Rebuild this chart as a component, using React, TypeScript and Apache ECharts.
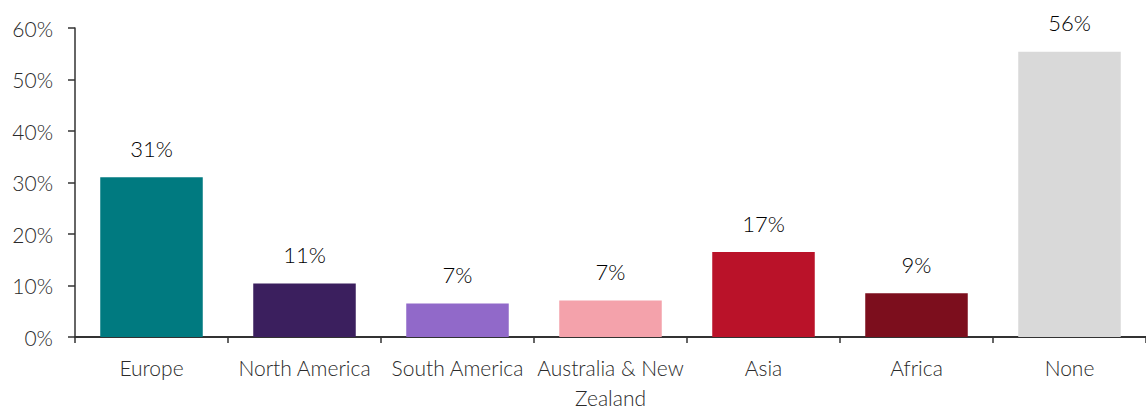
import React, { useEffect, useRef } from "react";
import * as echarts from "echarts";

const categories = ["Europe", "North America", "South America", "Australia & New Zealand", "Asia", "Africa", "None"];
const values = [31.0, 10.4, 6.5, 7.1, 16.5, 8.5, 55.4];
const valueLabels = ["31%", "11%", "7%", "7%", "17%", "9%", "56%"];
const colors = ["#007A80", "#3B1F5E", "#9169C9", "#F4A2AB", "#BA1229", "#7C0E1D", "#D9D9D9"];
const yTicks = [0, 10, 20, 30, 40, 50, 60];

const FONT = "Lato, 'Noto Sans', sans-serif";

export default function App() {
  const ref = useRef<HTMLDivElement>(null);
  useEffect(() => {
    if (!ref.current) return;
    const chart = echarts.init(ref.current, null, { renderer: "svg" });
    chart.setOption({
      animation: false,
      backgroundColor: "#ffffff",
      grid: { left: 75, right: -3, top: 28, bottom: 70, containLabel: false },
      xAxis: {
        type: "category",
        data: categories,
        axisLine: { show: true, lineStyle: { color: "#333333", width: 2 } },
        axisTick: { show: true, length: 6, alignWithLabel: false, lineStyle: { color: "#333333", width: 1.5 } },
        axisLabel: {
          color: "#2a2a2a",
          fontFamily: FONT,
          fontSize: 21,
          fontWeight: 300,
          margin: 15,
          lineHeight: 30,
          interval: 0,
          formatter: (v: string) => (v === "Australia & New Zealand" ? "Australia & New\nZealand" : v),
        },
      },
      yAxis: {
        type: "value",
        min: yTicks[0],
        max: yTicks[yTicks.length - 1],
        interval: 10,
        splitLine: { show: false },
        axisLine: { show: true, lineStyle: { color: "#333333", width: 1.5 } },
        axisTick: { show: true, length: 7, lineStyle: { color: "#333333", width: 1.5 } },
        axisLabel: {
          color: "#2a2a2a",
          fontFamily: FONT,
          fontSize: 21,
          fontWeight: 300,
          margin: 22,
          formatter: "{value}%",
        },
      },
      series: [
        {
          type: "bar",
          barWidth: "67%",
          data: values.map((v, i) => ({ value: v, itemStyle: { color: colors[i] } })),
          label: {
            show: true,
            position: "top",
            distance: 18,
            color: "#000000",
            fontFamily: FONT,
            fontSize: 22,
            fontWeight: 300,
            formatter: (p: any) => valueLabels[p.dataIndex],
          },
        },
      ],
    });
    return () => chart.dispose();
  }, []);
  return (
    <div
      ref={ref}
      style={{ position: "absolute", left: 0, top: 0, width: 1146, height: 412 }}
    />
  );
}
